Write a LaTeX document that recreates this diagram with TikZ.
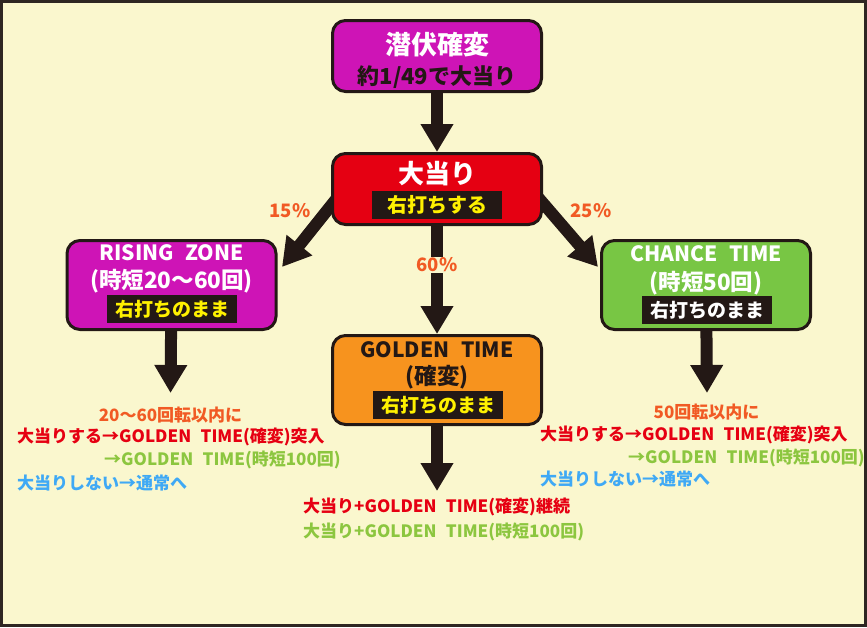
\documentclass[tikz,border=0pt]{standalone}
\usepackage{fontspec}
\setmainfont{Noto Sans CJK JP}
\usetikzlibrary{arrows.meta}

\definecolor{paper}{HTML}{FAF7CE}
\definecolor{frame}{HTML}{2E2622}
\definecolor{ink}{HTML}{231815}
\definecolor{magenta}{HTML}{CE14B6}
\definecolor{hitred}{HTML}{E50012}
\definecolor{gold}{HTML}{F7931E}
\definecolor{chance}{HTML}{78C644}
\definecolor{yel}{HTML}{FFF100}
\definecolor{pct}{HTML}{F15A24}
\definecolor{txtred}{HTML}{E60012}
\definecolor{txtgreen}{HTML}{8CC63F}
\definecolor{txtblue}{HTML}{3FA9F5}

\newcommand{\gt}{GOLDEN\hspace{0.55em}TIME}

\tikzset{
  mode/.style={draw=ink, line width=3pt, rounded corners=13pt,
    minimum width=209pt, minimum height=71pt},
  modeinfo/.style={mode, minimum height=89pt},
  title/.style={font=\bfseries\fontsize{21}{21}\selectfont, inner sep=0pt},
  subtitle/.style={title, font=\bfseries\fontsize{22.5}{22.5}\selectfont},
  plate/.style={fill=ink, text=yel, font=\bfseries\fontsize{19}{19}\selectfont,
    minimum width=130pt, minimum height=28pt, inner sep=0pt},
  flow/.style={ink, line width=12pt, -{Triangle[width=31pt,length=28pt]}},
  rate/.style={text=pct, font=\bfseries\fontsize{18.5}{18.5}\selectfont, inner sep=1pt},
  note/.style={anchor=west, font=\bfseries\fontsize{17}{17}\selectfont, inner sep=0pt},
}

\begin{document}
\begin{tikzpicture}[x=1pt, y=-1pt]
\useasboundingbox (0,0) rectangle (867,627);
\draw[frame, line width=3pt, fill=paper] (1.5,1.5) rectangle (865.5,625.5);

% arrows behind the boxes
\coordinate (hitL) at (345,188);
\coordinate (hitR) at (530,188);
\draw[flow] (hitL) -- (282,267) coordinate (tipL);
\draw[flow] (hitR) -- (598,267) coordinate (tipR);

% boxes
\node[mode, fill=magenta] (latent) at (437,56) {};
\node[mode, fill=hitred] (hit) at (437,189) {};
\node[modeinfo, fill=magenta] (rising) at (171.5,285) {};
\node[modeinfo, fill=gold] (golden) at (437,380) {};
\node[modeinfo, fill=chance] (chance) at (706,285) {};

% box texts
\node[title, white, font=\bfseries\fontsize{26}{26}\selectfont] at (437,45) {潜伏確変};
\node[title, ink, font=\bfseries\fontsize{22}{22}\selectfont] at (437,77) {約1/49で大当り};
\node[title, white, font=\bfseries\fontsize{26}{26}\selectfont] at (437,174) {大当り};
\node[plate, font=\bfseries\fontsize{20}{20}\selectfont] at (437,205) {右打ちする};
\node[title, white] at (171.5,253) {RISING\hspace{0.55em}ZONE};
\node[subtitle, white] at (171.5,281) {(時短20〜60回)};
\node[plate] at (172,309) {右打ちのまま};
\node[title, ink] at (437,350) {\gt};
\node[subtitle, ink] at (437,377) {(確変)};
\node[plate] at (438,405) {右打ちのまま};
\node[title, white] at (706,254) {CHANCE\hspace{0.55em}TIME};
\node[subtitle, white] at (706,283) {(時短50回)};
\node[plate, text=white] at (707,310) {右打ちのまま};

% arrows between boxes
\draw[flow] (latent) -- (hit);
\node[rate, fill=paper] (p60) at (437,265) {60\%};
\draw[ink, line width=12pt] (hit.south) -- (p60.north);
\draw[flow] (p60.south) -- (golden);
\node[rate] at (290,211) {15\%};
\node[rate] at (591,211) {25\%};
\coordinate (endL) at (170.5,393);
\coordinate (endR) at (707,393);
\coordinate (endG) at (437,491);
\draw[flow] (rising) -- (endL);
\draw[flow] (chance) -- (endR);
\draw[flow] (golden) -- (endG);

% results
\node[note, anchor=center, text=pct] at (170.5,415) {20〜60回転以内に};
\node[note, text=txtred] at (17,437) {大当りする→\gt(確変)突入};
\node[note, text=txtgreen] at (104,460) {→\gt(時短100回)};
\node[note, text=txtblue] at (17,483) {大当りしない→通常へ};

\node[note, anchor=center, text=pct] at (706.5,412) {50回転以内に};
\node[note, text=txtred] at (540,435) {大当りする→\gt(確変)突入};
\node[note, text=txtgreen] at (628,458) {→\gt(時短100回)};
\node[note, text=txtblue] at (540,479) {大当りしない→通常へ};

\node[note, text=txtred] at (303,507) {大当り+\gt(確変)継続};
\node[note, text=txtgreen] at (303,532) {大当り+\gt(時短100回)};
\end{tikzpicture}
\end{document}
